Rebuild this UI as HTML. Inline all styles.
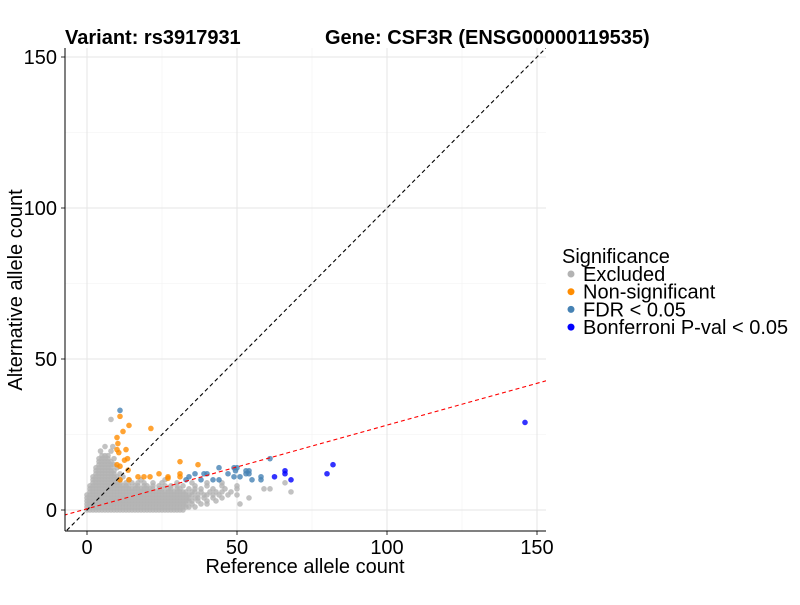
<!DOCTYPE html>
<html><head><meta charset="utf-8"><style>
body{margin:0;background:#fff;font-family:"Liberation Sans",Arial,sans-serif}
svg text{font-family:"Liberation Sans",Arial,sans-serif}
</style></head><body>
<svg id="chart" width="800" height="600" viewBox="0 0 800 600" xmlns="http://www.w3.org/2000/svg">
<rect width="800" height="600" fill="#fff"/>
<defs><clipPath id="clip"><rect x="65" y="48" width="481" height="483"/></clipPath></defs>
<g id="grid"></g>
<g id="marks" clip-path="url(#clip)"></g>
<g id="axes"></g>
<text x="65" y="44" font-size="20" font-weight="bold">Variant: rs3917931</text>
<text x="325" y="44" font-size="20" font-weight="bold">Gene: CSF3R (ENSG00000119535)</text>
<text x="305" y="573" font-size="20" text-anchor="middle">Reference allele count</text>
<text transform="translate(22,290) rotate(-90)" font-size="20" text-anchor="middle">Alternative allele count</text>
<g id="legend">
<text x="562" y="263" font-size="20">Significance</text>
</g>
</svg>
<script>
const xTicks=[0,50,100,150];
const yTicks=[0,50,100,150];
const minorTicks=[25,75,125];
const grayRows=[
[0,[0,1,2,3,4,5,6,7,8,9,10,11,12,13,14,15,16,17,18,19,20,21,22,23,24,25,26,27,28,29,30,31,32]],
[1,[0,1,2,3,4,5,6,7,8,9,10,11,12,13,14,15,16,17,18,19,20,21,22,23,24,25,26,27,28,29,30,31,32,33,34,36]],
[2,[0,1,2,3,4,5,6,7,8,9,10,11,12,13,14,15,16,17,18,19,20,21,22,23,24,25,26,27,28,29,30,31,32,33,35,38,40,51]],
[3,[0,1,2,3,4,5,6,7,8,9,10,11,12,13,14,15,16,17,18,19,20,21,22,23,24,25,26,27,28,29,30,31,32,33,34,35,37,40,43]],
[4,[0,1,2,3,4,5,6,7,8,9,10,11,12,13,14,15,16,17,18,19,20,21,22,23,24,25,26,27,28,29,30,31,32,33,34,36,37,39,42,45,54]],
[5,[0,1,2,3,4,5,6,7,8,9,10,11,12,13,14,15,16,17,18,19,20,21,22,23,24,25,26,27,28,29,30,31,32,33,34,35,37,39,40,42,44,47,50]],
[6,[1,2,3,4,5,6,7,8,9,10,11,12,13,14,15,16,17,18,19,20,21,22,23,24,25,26,27,28,29,30,31,32,33,35,36,38,41,43,45,48,68]],
[7,[1,2,3,4,5,6,7,8,9,10,11,12,13,14,15,16,17,18,19,20,21,22,24,25,27,28,30,31,34,36,38,42,46,50,59,61]],
[8,[1,2,3,4,5,6,7,8,9,10,11,12,13,14,16,17,19,20,22,24,26,28,30,32,36,40,45,50]],
[9,[2,3,4,5,6,7,8,9,10,11,13,15,17,19,22,25,30,35,40,45,66]],
[10,[2,3,4,5,6,7,8,9,10,11,14,18,26]],
[11,[2,3,4,5,6,7,8,9,10,12]],
[12,[3,4,5,6,7,8,9,11]],
[13,[3,4,5,6,7,8,9]],
[14,[3,4,5,6,7,8,10]],
[15,[4,5,6,7,8,9]],
[16,[4,5,6,7,8]],
[17,[4,5,6,7,9]],
[18,[5,6,7]],
[19.5,[4.5,8]],
[21,[6,8.6]],
[30,[8]]
];
const orangeX=[11,14,12,21.3,10,10.3,13,10,10.6,13.5,12.5,10,11,13.7,11,14,17,19,21,24,27,27,31,31,31,37];
const orangeY=[31,28,26,27,24,22,20,20,19,17,16.5,15,14.5,13.2,10,10,11,11,11,12,11,10.5,16,12,11,15];
const fdrX=[11,33,34,36,39,40,38,42,44,44,47,49,49.5,50,49,53,54,51,55,58,61,53,54,58];
const fdrY=[33,10,11,12,12,12,10,10,14,10,12,14,13,14,11,12,13,11,10,11,17,13,12,10];
const bonfX=[62.5,66,66,68,80,82,146];
const bonfY=[11,13,12,10,12,15,29];
const legendLabels=["Excluded","Non-significant","FDR < 0.05","Bonferroni P-val < 0.05"];
const legendColors=["#b3b3b3","#ff8c00","#4682b4","#0000ff"];

const NS="http://www.w3.org/2000/svg";
const sx=v=>87+v*3.0;
const sy=v=>510-v*3.02;
function mk(tag,attrs,parent){const e=document.createElementNS(NS,tag);for(const k in attrs)e.setAttribute(k,attrs[k]);parent.appendChild(e);return e;}
const grid=document.getElementById('grid'),marks=document.getElementById('marks'),axes=document.getElementById('axes'),legend=document.getElementById('legend');
minorTicks.forEach(t=>{
 let a=mk('line',{x1:sx(t),x2:sx(t),y1:48,y2:531,stroke:'#f2f2f2','stroke-width':0.6},grid);
 
 
 let b=mk('line',{x1:65,x2:546,y1:sy(t),y2:sy(t),stroke:'#f2f2f2','stroke-width':0.6},grid);
 
 
});
xTicks.forEach(t=>{
 let a=mk('line',{x1:sx(t),x2:sx(t),y1:48,y2:531,stroke:'#e6e6e6','stroke-width':1.1},grid);
 
 
 let tk=mk('line',{x1:sx(t),x2:sx(t),y1:531,y2:535,stroke:'#333'},axes);
 
 
 let tx=mk('text',{x:sx(t),y:554,'font-size':20,'text-anchor':'middle',fill:'#000'},axes);
 tx.textContent=t;
 
 
});
yTicks.forEach(t=>{
 let a=mk('line',{x1:65,x2:546,y1:sy(t),y2:sy(t),stroke:'#e6e6e6','stroke-width':1.1},grid);
 
 
 let tk=mk('line',{x1:61,x2:65,y1:sy(t),y2:sy(t),stroke:'#333'},axes);
 
 
 let tx=mk('text',{x:57,y:sy(t)+7,'font-size':20,'text-anchor':'end',fill:'#000'},axes);
 tx.textContent=t;
 
 
});
let ax=mk('line',{x1:65,x2:65,y1:48,y2:531,stroke:'#000','stroke-width':1},axes);


let bx=mk('line',{x1:65,x2:546,y1:531,y2:531,stroke:'#000','stroke-width':1},axes);


function pt(x,y,color,name){
 const c=mk('circle',{cx:sx(x),cy:sy(y),r:2.8,fill:color,'fill-opacity':0.8},marks);
 
 
}
grayRows.forEach(r=>r[1].forEach(x=>pt(x,r[0],'#b3b3b3','excluded-point')));
orangeX.forEach((x,i)=>pt(x,orangeY[i],'#ff8c00','non-significant-point'));
fdrX.forEach((x,i)=>pt(x,fdrY[i],'#4682b4','fdr-point'));
bonfX.forEach((x,i)=>pt(x,bonfY[i],'#0000ff','bonferroni-point'));
let d=mk('line',{x1:sx(-10),y1:sy(-10),x2:sx(160),y2:sy(160),stroke:'#000','stroke-width':1.1,'stroke-dasharray':'4,3'},marks);


const slope=0.277,icpt=0.4;
let r=mk('line',{x1:sx(-10),y1:sy(icpt-10*slope),x2:sx(160),y2:sy(icpt+160*slope),stroke:'#ff0000','stroke-width':1.1,'stroke-dasharray':'4,3'},marks);


legendLabels.forEach((l,i)=>{
 const y=274+i*17.7;
 let c=mk('circle',{cx:571,cy:y,r:3.5,fill:legendColors[i]},legend);
 
 
 let t=mk('text',{x:583,y:y+7,'font-size':20},legend);
 t.textContent=l;
 
 
});
</script>
</body></html>
